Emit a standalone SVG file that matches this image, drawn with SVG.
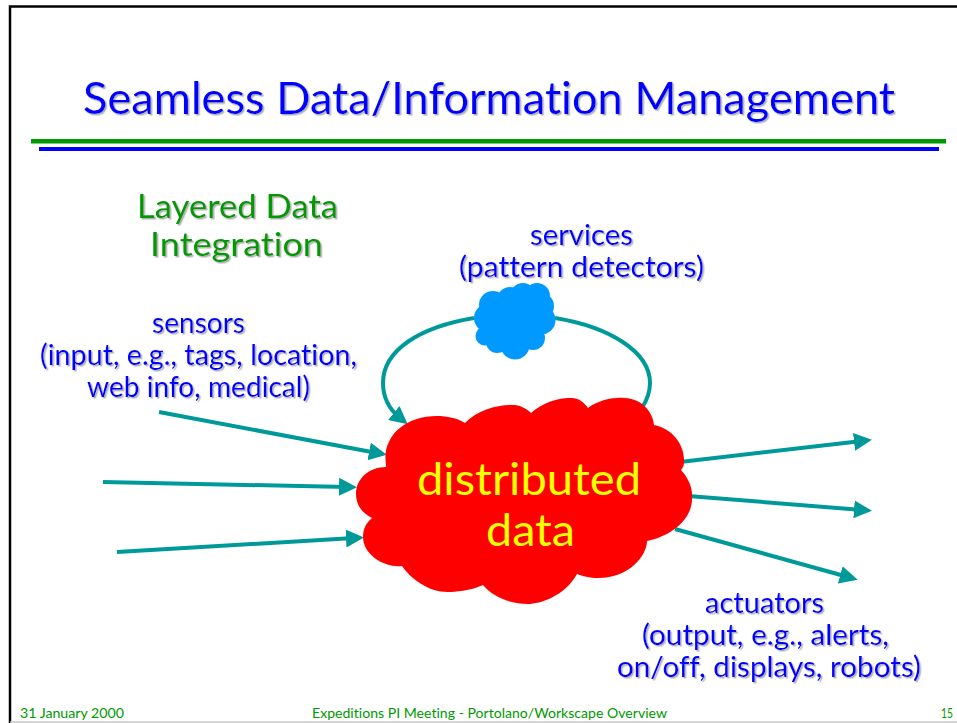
<svg xmlns="http://www.w3.org/2000/svg" width="957" height="723" viewBox="0 0 957 723">
<style>
text{font-family:"Lato","Open Sans","Liberation Sans",sans-serif;text-anchor:start;font-variant-ligatures:none}
.b{fill:#0000ff;font-size:28px;filter:url(#sh)}
.g{fill:#009900;font-size:32px;filter:url(#sh)}
.t{fill:#0000ff;font-size:44px;filter:url(#sh)}
.y{fill:#ffff00;font-size:44px}
.f{fill:#009900;font-size:14px}
.c{fill:none;stroke:#009999;stroke-width:4px}
</style>
<defs>
<filter id="sh" x="-5%" y="-10%" width="110%" height="125%"><feDropShadow dx="1.500" dy="1.500" stdDeviation="0.500" flood-color="#b0b0b0"/></filter>
<marker id="ah" markerUnits="userSpaceOnUse" markerWidth="20" markerHeight="20" refX="8" refY="10" orient="auto"><path d="M0,1 L18,10 L0,19 Z" fill="#009999" stroke="none"/></marker>
</defs>
<rect width="957" height="723" fill="#ffffff"/>
<g id="frame">
<path d="M10,723 V6.500 H957" fill="none" stroke="#000000" stroke-width="2.500"/>
<path d="M10,722 H957" fill="none" stroke="#c8c8c8" stroke-width="1.500"/>
<rect x="31" y="139" width="915" height="4.500" fill="#009900"/>
<rect x="39" y="147" width="900" height="4" fill="#0000ff"/>
</g>
<g id="title"><text class="t" x="83" y="114" textLength="812" lengthAdjust="spacingAndGlyphs">Seamless Data/Information Management</text></g>
<g id="layer-label">
<text class="g" x="137" y="218" textLength="201" lengthAdjust="spacingAndGlyphs">Layered Data</text>
<text class="g" x="150" y="256" textLength="173" lengthAdjust="spacingAndGlyphs">Integration</text>
</g>
<g id="connectors">
<path class="c" d="M474,318 C420,327 383,350 383,383 C383,397 389,409 400,418" marker-end="url(#ah)"/>
<path class="c" d="M555,318 C610,327 650,352 650,383 C650,392 647,400 642,408"/>
<line class="c" x1="159" y1="412" x2="377" y2="453" marker-end="url(#ah)"/>
<line class="c" x1="103" y1="482" x2="347" y2="487" marker-end="url(#ah)"/>
<line class="c" x1="117" y1="552" x2="354" y2="538" marker-end="url(#ah)"/>
<line class="c" x1="680" y1="462" x2="862" y2="441" marker-end="url(#ah)"/>
<line class="c" x1="688" y1="496" x2="862" y2="510" marker-end="url(#ah)"/>
<line class="c" x1="675" y1="529" x2="848" y2="577" marker-end="url(#ah)"/>
</g>
<g id="services-cloud" fill="#0099ff">
<circle cx="493" cy="305" r="14"/>
<circle cx="510" cy="300" r="13"/>
<circle cx="523" cy="296" r="13"/>
<circle cx="537" cy="296" r="13"/>
<circle cx="541" cy="306" r="13"/>
<circle cx="541" cy="320" r="14.500"/>
<circle cx="488" cy="318" r="14"/>
<circle cx="485" cy="336" r="9.500"/>
<circle cx="497" cy="342" r="11"/>
<circle cx="515" cy="345" r="14.500"/>
<circle cx="533" cy="338" r="12"/>
<ellipse cx="515" cy="322" rx="32" ry="24"/>
</g>
<g id="data-cloud">
<path fill="#ff0000" d="M385.700,462 C383,436 405,416 437,416 C447,416 457,418 465,423 C478,409 500,404 515,405 C522,406 527,409 531,413 C543,402 560,397 572,398 C578,398 584,402 588,408 C600,399 615,397 625,398 C642,399 653,412 654,425 C672,428 685,445 684,462 C684,465 683,468 681,470 C690,480 693,490 692,500 C691,522 668,537 647,541 C647,555 630,578 598,578 C590,578 582,576 577,574 C565,596 540,604 528,604 C510,604 493,597 483,585 C470,591 455,592 448,592 C428,592 410,578 402,566 C385,568 363,555 363,537 C363,529 366,523 372,518 C360,512 356,503 356,494 C356,478 370,467 386,467 Z"/>
<text class="y" x="417" y="495" textLength="224" lengthAdjust="spacingAndGlyphs">distributed</text>
<text class="y" x="486" y="546" textLength="89" lengthAdjust="spacingAndGlyphs">data</text>
</g>
<g id="services-label">
<text class="b" x="530" y="245" textLength="103" lengthAdjust="spacingAndGlyphs">services</text>
<text class="b" x="459" y="277" textLength="245" lengthAdjust="spacingAndGlyphs">(pattern detectors)</text>
</g>
<g id="sensors-label">
<text class="b" x="152" y="333" textLength="93" lengthAdjust="spacingAndGlyphs">sensors</text>
<text class="b" x="40" y="365" textLength="317" lengthAdjust="spacingAndGlyphs">(input, e.g., tags, location,</text>
<text class="b" x="87" y="397" textLength="223" lengthAdjust="spacingAndGlyphs">web info, medical)</text>
</g>
<g id="actuators-label">
<text class="b" x="705" y="613" textLength="119" lengthAdjust="spacingAndGlyphs">actuators</text>
<text class="b" x="642" y="645" textLength="247" lengthAdjust="spacingAndGlyphs">(output, e.g., alerts,</text>
<text class="b" x="617" y="677" textLength="304" lengthAdjust="spacingAndGlyphs">on/off, displays, robots)</text>
</g>
<g id="footer">
<text class="f" x="20" y="718" textLength="104" lengthAdjust="spacingAndGlyphs">31 January 2000</text>
<text class="f" x="312" y="718" textLength="355" lengthAdjust="spacingAndGlyphs">Expeditions PI Meeting - Portolano/Workscape Overview</text>
<text class="f" x="941" y="718" textLength="12" lengthAdjust="spacingAndGlyphs">15</text>
</g>
</svg>
